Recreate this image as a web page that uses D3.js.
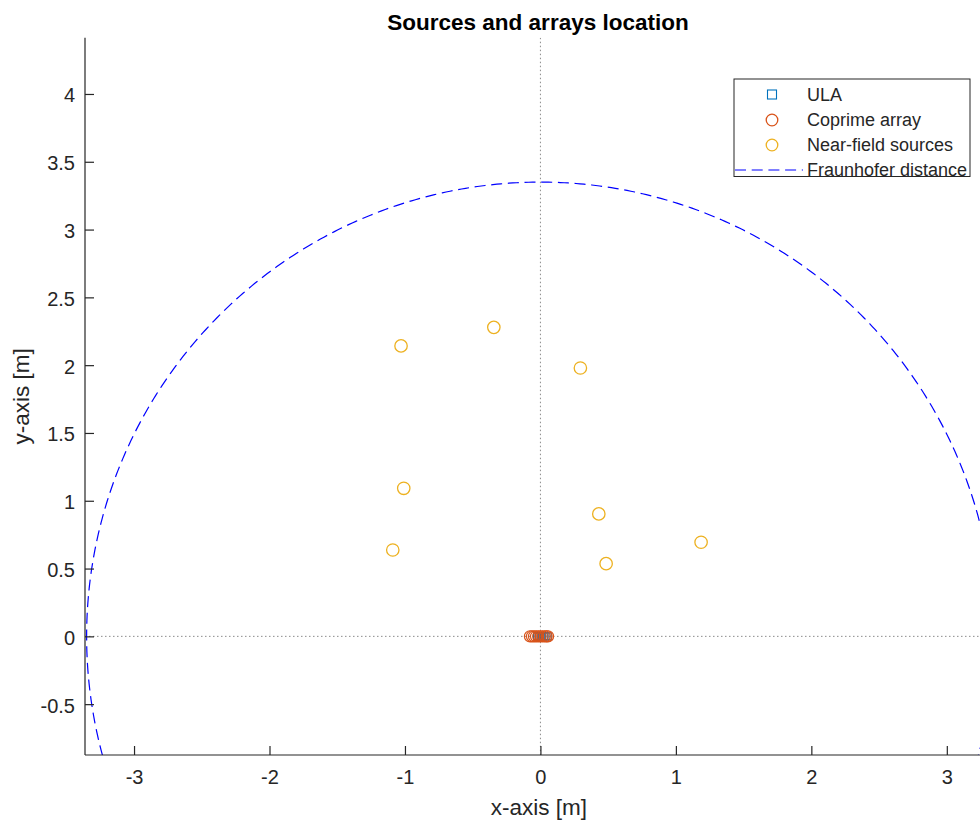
<!DOCTYPE html>
<html>
<head>
<meta charset="utf-8">
<script src="https://cdn.jsdelivr.net/npm/d3@7"></script>
<style>
  html, body { margin: 0; padding: 0; background: #fff; }
  svg { display: block; font-family: "Liberation Sans", Arial, Helvetica, sans-serif; }
</style>
</head>
<body>
<svg id="chart" width="980" height="823"></svg>
<script>
// Element positions along the x-axis (y = 0), in metres
const ulaX = [-0.025, -0.0125, 0, 0.0125, 0.025, 0.0375, 0.054];
const coprimeX = [-0.077, -0.062, -0.047, -0.032, -0.016, 0, 0.016, 0.032, 0.045, 0.056];

// Near-field source coordinates, in metres
const sourceX = [-1.029, -0.344, 0.295, -1.009, -1.090, 0.431, 0.485, 1.186];
const sourceY = [2.142, 2.279, 1.979, 1.092, 0.637, 0.903, 0.536, 0.694];

// Fraunhofer distance (radius of the boundary circle), metres
const fraunhoferR = 3.35;

// Axis limits and ticks
const xLim = [-3.362, 3.245];
const yLim = [-0.875, 4.415];
const xTicks = [-3, -2, -1, 0, 1, 2, 3];
const yTicks = [-0.5, 0, 0.5, 1, 1.5, 2, 2.5, 3, 3.5, 4];

const legendLabels = ["ULA", "Coprime array", "Near-field sources", "Fraunhofer distance"];

const colors = { ula: "#0072BD", coprime: "#D95319", sources: "#EDB120", fraun: "#0000FF", axis: "#262626" };

const svg = d3.select("#chart");
const plot = { left: 85, right: 980, top: 37.7, bottom: 755 };

const x = d3.scaleLinear().domain(xLim).range([plot.left, plot.right]);
const y = d3.scaleLinear().domain(yLim).range([plot.bottom, plot.top]);

svg.append("defs").append("clipPath").attr("id", "clip")
  .append("rect")
  .attr("x", plot.left).attr("y", plot.top)
  .attr("width", plot.right - plot.left).attr("height", plot.bottom - plot.top);

const g = svg.append("g").attr("clip-path", "url(#clip)");

// Dotted reference lines through the origin
g.append("line")
  .attr("x1", x(0)).attr("x2", x(0)).attr("y1", plot.top).attr("y2", plot.bottom)
  .attr("stroke", "#8c8c8c").attr("stroke-width", 1).attr("stroke-dasharray", "1.5,2.5");
g.append("line")
  .attr("x1", plot.left).attr("x2", plot.right).attr("y1", y(0)).attr("y2", y(0))
  .attr("stroke", "#8c8c8c").attr("stroke-width", 1).attr("stroke-dasharray", "1.5,2.5");

// Fraunhofer distance circle
const circlePts = d3.range(0, 721).map(i => {
  const a = i / 720 * 2 * Math.PI;
  return [fraunhoferR * Math.cos(a), fraunhoferR * Math.sin(a)];
});
g.append("path")
  .datum(circlePts)
  .attr("d", d3.line().x(d => x(d[0])).y(d => y(d[1])))
  .attr("fill", "none").attr("stroke", colors.fraun).attr("stroke-width", 1.2)
  .attr("stroke-dasharray", "11,5.7");

// ULA elements
const sq = 7;
g.selectAll("rect.ula")
  .data(ulaX)
  .join("rect").attr("class", "ula")
  .attr("x", d => x(d) - sq / 2).attr("y", y(0) - sq / 2)
  .attr("width", sq).attr("height", sq)
  .attr("fill", "none").attr("stroke", colors.ula).attr("stroke-width", 1.1);

// Coprime array elements
g.selectAll("circle.cop")
  .data(coprimeX)
  .join("circle").attr("class", "cop")
  .attr("cx", d => x(d)).attr("cy", y(0)).attr("r", 5.6)
  .attr("fill", "none").attr("stroke", colors.coprime).attr("stroke-width", 1.2);

// Near-field sources
g.selectAll("circle.src")
  .data(sourceX.map((v, i) => [v, sourceY[i]]))
  .join("circle").attr("class", "src")
  .attr("cx", d => x(d[0])).attr("cy", d => y(d[1])).attr("r", 6.2)
  .attr("fill", "none").attr("stroke", colors.sources).attr("stroke-width", 1.3);

// Axes
const xAxis = d3.axisBottom(x).tickValues(xTicks).tickSize(-9).tickPadding(15);
const yAxis = d3.axisLeft(y).tickValues(yTicks).tickSize(-9).tickPadding(10);

const gx = svg.append("g").attr("transform", `translate(0,${plot.bottom})`).call(xAxis);
const gy = svg.append("g").attr("transform", `translate(${plot.left},0)`).call(yAxis);

[gx, gy].forEach(a => {
  a.select(".domain").attr("stroke", colors.axis).attr("stroke-width", 1.2);
  a.selectAll(".tick line").attr("stroke", colors.axis).attr("stroke-width", 1.2);
  a.selectAll(".tick text").attr("fill", colors.axis)
    .style("font-size", "20px").style("font-family", "Liberation Sans, Arial, sans-serif")
    .text(d => d < 0 ? "-" + Math.abs(d) : String(d));
});
gy.selectAll(".tick text").attr("dy", "0.4em");
gx.select(".domain").attr("d", `M${plot.left},0H${plot.right}`);
gy.select(".domain").attr("d", `M0,${plot.bottom}V${plot.top}`);

// Title and axis labels
svg.append("text")
  .attr("x", 538).attr("y", 29.5).attr("text-anchor", "middle")
  .attr("fill", "#000").style("font-size", "22.5px").style("font-weight", "bold")
  .text("Sources and arrays location");

svg.append("text")
  .attr("x", 539).attr("y", 815).attr("text-anchor", "middle")
  .attr("fill", colors.axis).style("font-size", "22.5px")
  .text("x-axis [m]");

svg.append("text")
  .attr("transform", `translate(28.6,${(plot.top + plot.bottom) / 2}) rotate(-90)`)
  .attr("text-anchor", "middle")
  .attr("fill", colors.axis).style("font-size", "22.5px")
  .text("y-axis [m]");

// Legend
const lg = svg.append("g");
lg.append("rect")
  .attr("x", 734).attr("y", 79).attr("width", 236).attr("height", 97.5)
  .attr("fill", "#fff").attr("stroke", colors.axis).attr("stroke-width", 1);

const rowY = [94.5, 120, 145, 170];
const mx = 772, tx = 807;

lg.append("rect").attr("x", mx - 4.5).attr("y", rowY[0] - 4.5).attr("width", 9).attr("height", 9)
  .attr("fill", "none").attr("stroke", colors.ula).attr("stroke-width", 1.1);
lg.append("circle").attr("cx", mx).attr("cy", rowY[1]).attr("r", 5.8)
  .attr("fill", "none").attr("stroke", colors.coprime).attr("stroke-width", 1.3);
lg.append("circle").attr("cx", mx).attr("cy", rowY[2]).attr("r", 5.8)
  .attr("fill", "none").attr("stroke", colors.sources).attr("stroke-width", 1.3);
lg.append("line").attr("x1", 735).attr("x2", 803).attr("y1", rowY[3]).attr("y2", rowY[3])
  .attr("stroke", colors.fraun).attr("stroke-width", 1.2).attr("stroke-dasharray", "11,5.7");

lg.selectAll("text.lab")
  .data(legendLabels)
  .join("text").attr("class", "lab")
  .attr("x", tx).attr("y", (d, i) => rowY[i]).attr("dy", "0.35em")
  .attr("fill", colors.axis).style("font-size", "18px")
  .text(d => d);
</script>
</body>
</html>
